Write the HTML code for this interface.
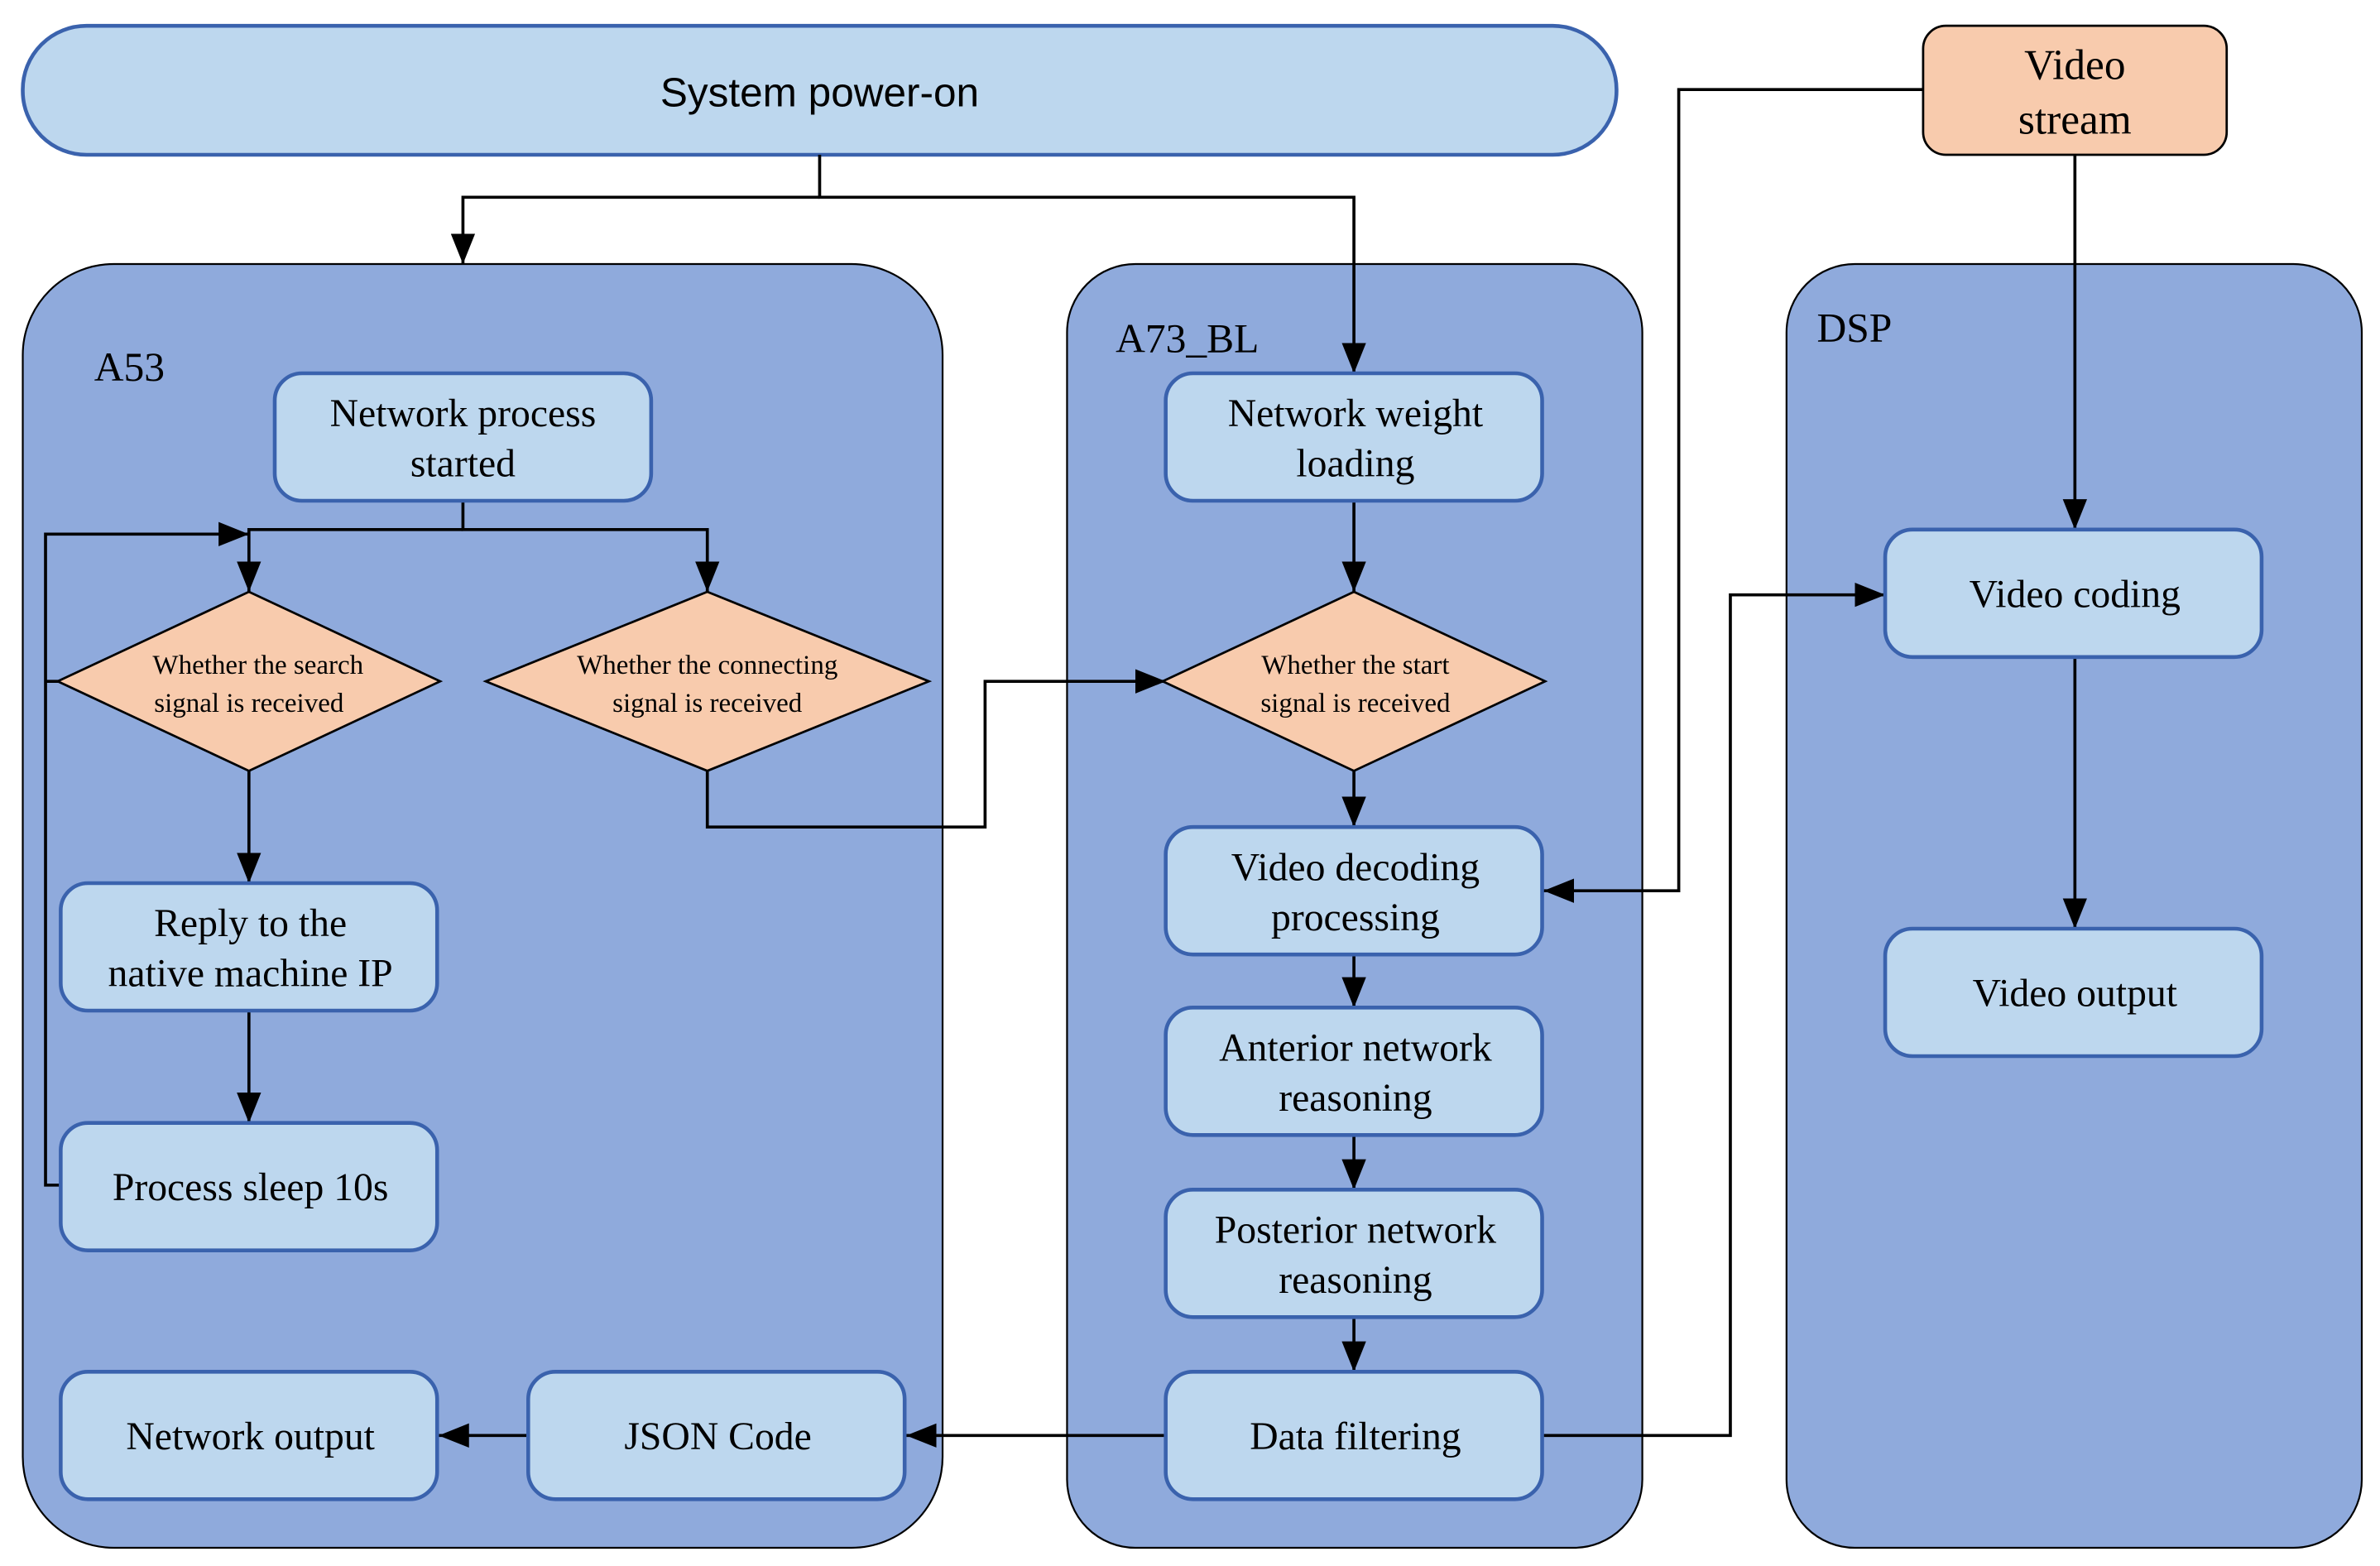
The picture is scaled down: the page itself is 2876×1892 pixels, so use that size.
<!DOCTYPE html>
<html><head><meta charset="utf-8"><style>
html,body{margin:0;padding:0;background:#fff;}
svg{display:block;}
text{font-family:"Liberation Serif",serif;fill:#000;}
</style></head><body>
<svg width="2876" height="1892" viewBox="0 0 1568 1032" preserveAspectRatio="none" xmlns="http://www.w3.org/2000/svg">
<defs>
<marker id="a" viewBox="0 0 20 16" refX="20" refY="8" markerWidth="20" markerHeight="16" markerUnits="userSpaceOnUse" orient="auto"><path d="M0,0 L20,8 L0,16 z" fill="#000"/></marker>
</defs>
<rect x="15" y="17" width="1050" height="85" rx="42" fill="#bdd7ee" stroke="#3a62ad" stroke-width="2.5"/>
<text x="540" y="70" font-size="27" text-anchor="middle" style="font-family:'Liberation Sans',sans-serif">System power-on</text>
<rect x="1267" y="17" width="200" height="85" rx="15" fill="#f8cbad" stroke="#000" stroke-width="1.5"/>
<text x="1367" y="52" font-size="28" text-anchor="middle">Video</text>
<text x="1367" y="88" font-size="28" text-anchor="middle">stream</text>
<rect x="15" y="174" width="606" height="846" rx="60" fill="#8faadc" stroke="#000" stroke-width="1.2"/>
<rect x="703" y="174" width="379" height="846" rx="45" fill="#8faadc" stroke="#000" stroke-width="1.2"/>
<rect x="1177" y="174" width="379" height="846" rx="45" fill="#8faadc" stroke="#000" stroke-width="1.2"/>
<text x="62" y="251" font-size="27">A53</text>
<text x="735" y="232" font-size="27">A73_BL</text>
<text x="1197" y="225" font-size="27">DSP</text>
<g stroke="#000" stroke-width="2" fill="none">
<path d="M540,102 V130 H892 V246" marker-end="url(#a)"/>
<path d="M540,130 H305 V174" marker-end="url(#a)"/>
<path d="M305,330 V349 H466 V390" marker-end="url(#a)"/>
<path d="M305,349 H164 V390" marker-end="url(#a)"/>
<path d="M40,781 H30 V352 H164" marker-end="url(#a)"/>
<path d="M30,449 H40"/>
<path d="M164,508 V582" marker-end="url(#a)"/>
<path d="M164,667 V740" marker-end="url(#a)"/>
<path d="M466,508 V545 H649 V449 H768" marker-end="url(#a)"/>
<path d="M892,330 V390" marker-end="url(#a)"/>
<path d="M892,508 V545" marker-end="url(#a)"/>
<path d="M892,629 V664" marker-end="url(#a)"/>
<path d="M892,748 V784" marker-end="url(#a)"/>
<path d="M892,868 V904" marker-end="url(#a)"/>
<path d="M1267,59 H1106 V587 H1017" marker-end="url(#a)"/>
<path d="M1367,102 V349" marker-end="url(#a)"/>
<path d="M1367,433 V612" marker-end="url(#a)"/>
<path d="M1017,946 H1140 V392 H1242" marker-end="url(#a)"/>
<path d="M768,946 H597" marker-end="url(#a)"/>
<path d="M348,946 H289" marker-end="url(#a)"/>
</g>
<g fill="#bdd7ee" stroke="#3a62ad" stroke-width="2.5">
<rect x="181" y="246" width="248" height="84" rx="18"/>
<rect x="768" y="246" width="248" height="84" rx="18"/>
<rect x="1242" y="349" width="248" height="84" rx="18"/>
<rect x="1242" y="612" width="248" height="84" rx="18"/>
<rect x="40" y="582" width="248" height="84" rx="18"/>
<rect x="40" y="740" width="248" height="84" rx="18"/>
<rect x="768" y="545" width="248" height="84" rx="18"/>
<rect x="768" y="664" width="248" height="84" rx="18"/>
<rect x="768" y="784" width="248" height="84" rx="18"/>
<rect x="768" y="904" width="248" height="84" rx="18"/>
<rect x="40" y="904" width="248" height="84" rx="18"/>
<rect x="348" y="904" width="248" height="84" rx="18"/>
</g>
<g fill="#f8cbad" stroke="#000" stroke-width="1.5">
<path d="M164,390 L290,449 L164,508 L38,449 z"/>
<path d="M466,390 L612,449 L466,508 L320,449 z"/>
<path d="M892,390 L1018,449 L892,508 L766,449 z"/>
</g>
<g font-size="26" text-anchor="middle">
<text x="305" y="281">Network process</text><text x="305" y="314">started</text>
<text x="893" y="281">Network weight</text><text x="893" y="314">loading</text>
<text x="1367" y="400">Video coding</text>
<text x="1367" y="663">Video output</text>
<text x="165" y="617">Reply to the</text><text x="165" y="650">native machine IP</text>
<text x="165" y="791">Process sleep 10s</text>
<text x="893" y="580">Video decoding</text><text x="893" y="613">processing</text>
<text x="893" y="699">Anterior network</text><text x="893" y="732">reasoning</text>
<text x="893" y="819">Posterior network</text><text x="893" y="852">reasoning</text>
<text x="893" y="955">Data filtering</text>
<text x="165" y="955">Network output</text>
<text x="473" y="955">JSON Code</text>
</g>
<g font-size="18" text-anchor="middle">
<text x="170" y="444">Whether the search</text><text x="164" y="469">signal is received</text>
<text x="466" y="444">Whether the connecting</text><text x="466" y="469">signal is received</text>
<text x="893" y="444">Whether the start</text><text x="893" y="469">signal is received</text>
</g>
</svg>
</body></html>
